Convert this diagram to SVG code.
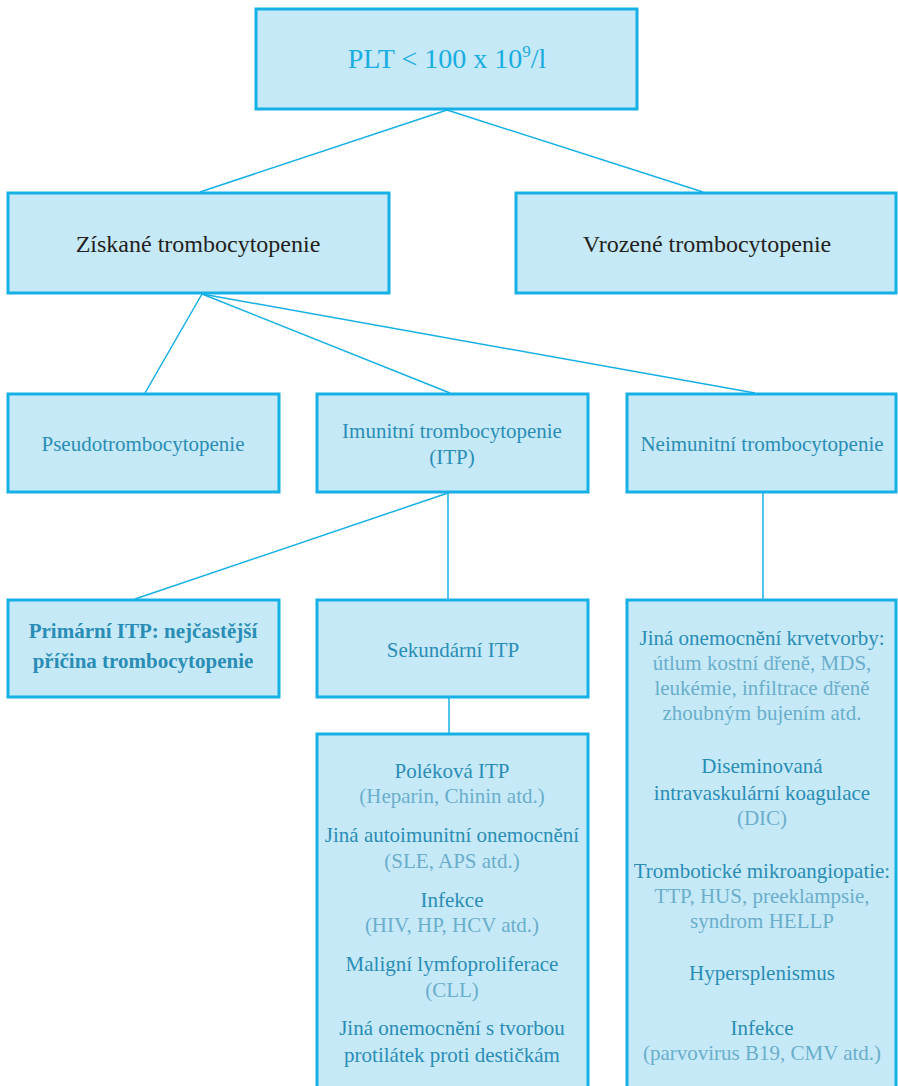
<svg xmlns="http://www.w3.org/2000/svg" width="898" height="1086" viewBox="0 0 898 1086">
<style>
.box{fill:#c6e9f8;stroke:#14b0e6;stroke-width:3}
.ln{stroke:#14b0e6;stroke-width:1.5;fill:none}
text{font-family:"Liberation Serif","Times New Roman",serif;text-anchor:middle}
.t1{font-size:28px;fill:#19ade2}
.t2{font-size:24px;fill:#231f20}
.t3{font-size:21px;fill:#2a8db5}
.tl{font-size:21px;fill:#6aaecb}
.tb{font-size:21px;fill:#2a8db5;font-weight:bold}
</style>
<rect width="898" height="1086" fill="#ffffff"/>
<g id="connectors">
<line class="ln" x1="447" y1="110" x2="200" y2="192"/>
<line class="ln" x1="447" y1="110" x2="703" y2="192"/>
<line class="ln" x1="202" y1="294" x2="145" y2="393"/>
<line class="ln" x1="202" y1="294" x2="450" y2="393"/>
<line class="ln" x1="202" y1="294" x2="755" y2="393"/>
<line class="ln" x1="448" y1="493" x2="135" y2="599"/>
<line class="ln" x1="448" y1="493" x2="448" y2="599"/>
<line class="ln" x1="763" y1="493" x2="763" y2="599"/>
<line class="ln" x1="449" y1="698" x2="449" y2="734"/>
</g>
<g id="root">
<rect class="box" x="256" y="9" width="381" height="100"/>
<text class="t1" x="447" y="68">PLT &lt; 100 x 10<tspan font-size="17" dy="-11">9</tspan><tspan dy="11">/l</tspan></text>
</g>
<g id="ziskane">
<rect class="box" x="8" y="193" width="381" height="100"/>
<text class="t2" x="198" y="252">Získané trombocytopenie</text>
</g>
<g id="vrozene">
<rect class="box" x="516" y="193" width="380" height="100"/>
<text class="t2" x="707" y="252">Vrozené trombocytopenie</text>
</g>
<g id="pseudo">
<rect class="box" x="8" y="394" width="271" height="98"/>
<text class="t3" x="143" y="451">Pseudotrombocytopenie</text>
</g>
<g id="imunitni">
<rect class="box" x="317" y="394" width="271" height="98"/>
<text class="t3" x="452" y="438">Imunitní trombocytopenie</text>
<text class="t3" x="452" y="464">(ITP)</text>
</g>
<g id="neimunitni">
<rect class="box" x="627" y="394" width="269" height="98"/>
<text class="t3" x="762" y="451">Neimunitní trombocytopenie</text>
</g>
<g id="primarni">
<rect class="box" x="8" y="600" width="271" height="97"/>
<text class="tb" x="143" y="638">Primární ITP: nejčastější</text>
<text class="tb" x="143" y="668">příčina trombocytopenie</text>
</g>
<g id="sekundarni">
<rect class="box" x="317" y="600" width="271" height="97"/>
<text class="t3" x="453" y="657">Sekundární ITP</text>
</g>
<g id="sekundarni-list">
<rect class="box" x="317" y="734" width="271" height="360"/>
<text class="t3" x="452" y="778">Poléková ITP</text>
<text class="tl" x="452" y="803">(Heparin, Chinin atd.)</text>
<text class="t3" x="452" y="842">Jiná autoimunitní onemocnění</text>
<text class="tl" x="452" y="868">(SLE, APS atd.)</text>
<text class="t3" x="452" y="907">Infekce</text>
<text class="tl" x="452" y="932">(HIV, HP, HCV atd.)</text>
<text class="t3" x="452" y="971">Maligní lymfoproliferace</text>
<text class="tl" x="452" y="997">(CLL)</text>
<text class="t3" x="452" y="1035">Jiná onemocnění s tvorbou</text>
<text class="t3" x="452" y="1062">protilátek proti destičkám</text>
</g>
<g id="neimunitni-list">
<rect class="box" x="627" y="600" width="269" height="494"/>
<text class="t3" x="762" y="645">Jiná onemocnění krvetvorby:</text>
<text class="tl" x="762" y="670">útlum kostní dřeně, MDS,</text>
<text class="tl" x="762" y="695">leukémie, infiltrace dřeně</text>
<text class="tl" x="762" y="720">zhoubným bujením atd.</text>
<text class="t3" x="762" y="773">Diseminovaná</text>
<text class="t3" x="762" y="800">intravaskulární koagulace</text>
<text class="tl" x="762" y="825">(DIC)</text>
<text class="t3" x="762" y="878">Trombotické mikroangiopatie:</text>
<text class="tl" x="762" y="903">TTP, HUS, preeklampsie,</text>
<text class="tl" x="762" y="928">syndrom HELLP</text>
<text class="t3" x="762" y="980">Hypersplenismus</text>
<text class="t3" x="762" y="1035">Infekce</text>
<text class="tl" x="762" y="1060">(parvovirus B19, CMV atd.)</text>
</g>
</svg>
